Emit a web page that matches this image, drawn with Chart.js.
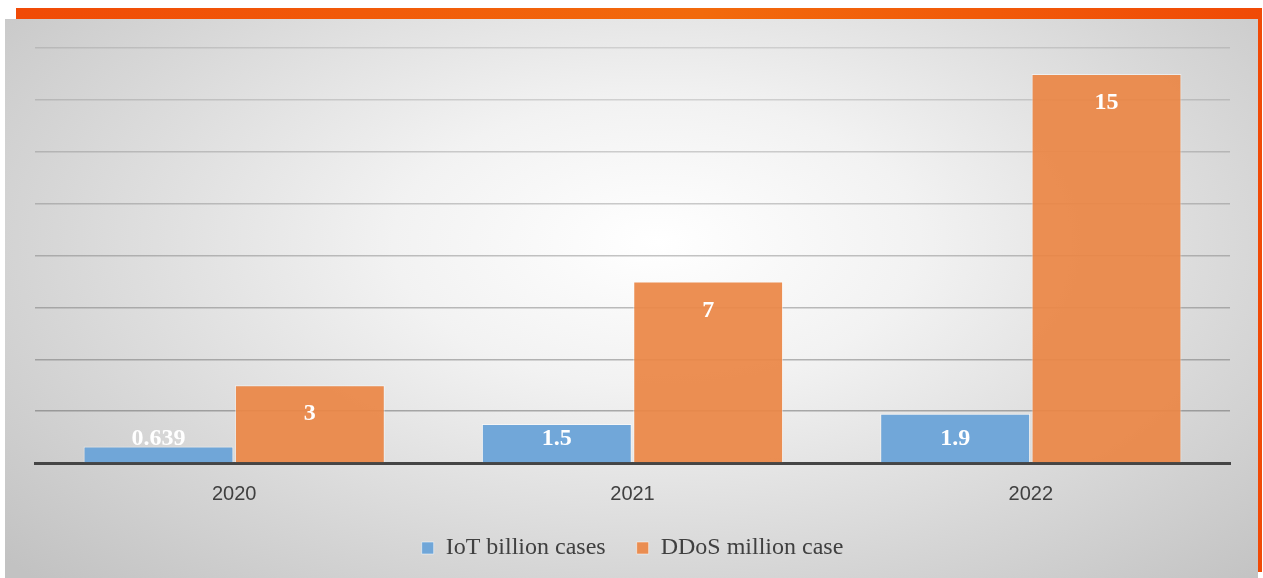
<!DOCTYPE html>
<html>
<head>
<meta charset="utf-8">
<script src="https://cdn.jsdelivr.net/npm/chart.js@4"></script>
<style>
  html, body { margin: 0; padding: 0; background: #ffffff; }
  body { width: 1263px; height: 578px; position: relative; overflow: hidden; }
  /* barra naranja superior */
  .top-bar {
    position: absolute; left: 16px; top: 8px; width: 1246px; height: 11px;
    background: linear-gradient(90deg, #f04a06 0%, #f26a0c 55%, #f04a06 100%);
  }
  .right-bar {
    position: absolute; left: 1258px; top: 19px; width: 4px; height: 553px;
    background: #f04a06;
  }
  .panel {
    position: absolute; left: 5px; top: 19px; width: 1253px; height: 559px;
    background: radial-gradient(ellipse 70% 85% at 52% 40%, #ffffff 0%, #f2f2f2 30%, #d6d6d6 70%, #c2c2c2 100%);
  }
  .chart-box { position: absolute; left: 0; top: 0; width: 1253px; height: 559px; }
</style>
</head>
<body>
<div class="top-bar"></div>
<div class="panel">
  <div class="chart-box"><canvas id="grafico"></canvas></div>
</div>
<div class="right-bar"></div>
<script>
// Datos
const anios = ["2020", "2021", "2022"];
const iotBillones = [0.639, 1.5, 1.9];
const ddosMillones = [3, 7, 15];
const etiquetasSeries = ["IoT billion cases", "DDoS million case"];

// Etiquetas blancas dentro de cada barra (como "extremo interior" de Excel)
const etiquetasBarras = {
  id: "etiquetasBarras",
  afterDatasetsDraw(chart) {
    const ctx = chart.ctx;
    ctx.save();
    ctx.fillStyle = "#ffffff";
    ctx.font = "bold 24px 'Liberation Serif', 'DejaVu Serif', serif";
    ctx.textAlign = "center";
    ctx.textBaseline = "middle";
    chart.data.datasets.forEach((ds, i) => {
      chart.getDatasetMeta(i).data.forEach((bar, j) => {
        const y = Math.min(bar.y + 29, bar.base - 23);
        ctx.fillText(String(ds.data[j]), bar.x, y);
      });
    });
    ctx.restore();
  }
};

const canvas = document.getElementById("grafico");

new Chart(canvas, {
  type: "bar",
  data: {
    labels: anios,
    datasets: [
      {
        label: etiquetasSeries[0],
        data: iotBillones,
        backgroundColor: "rgba(106, 163, 216, 0.95)",
        borderColor: "rgba(255, 255, 255, 0.5)",
        borderWidth: 1,
        categoryPercentage: 0.76,
        barPercentage: 0.99,
      },
      {
        label: etiquetasSeries[1],
        data: ddosMillones,
        backgroundColor: "rgba(235, 135, 70, 0.93)",
        borderColor: "rgba(255, 255, 255, 0.5)",
        borderWidth: 1,
        categoryPercentage: 0.76,
        barPercentage: 0.99,
      },
    ],
  },
  options: {
    responsive: true,
    maintainAspectRatio: false,
    animation: false,
    layout: { padding: { left: 30, right: 28, top: 29, bottom: 8 } },
    plugins: {
      tooltip: { enabled: false },
      legend: {
        position: "bottom",
        labels: {
          boxWidth: 12,
          boxHeight: 12,
          padding: 19,
          color: "#404040",
          font: { family: "'Liberation Serif', serif", size: 24 },
          // un poco más de separación entre las dos entradas
          generateLabels(chart) {
            const items = Chart.defaults.plugins.legend.labels.generateLabels(chart);
            items.forEach((it, i) => {
              if (i < items.length - 1) it.text = it.text + "\u2002";
            });
            return items;
          },
        },
      },
    },
    scales: {
      x: {
        grid: { display: false },
        border: { display: true, color: "#454545", width: 3 },
        ticks: {
          color: "#404040",
          padding: 11,
          font: { family: "'Liberation Sans', Arial, sans-serif", size: 20 },
        },
      },
      y: {
        min: 0,
        max: 16,
        ticks: { stepSize: 2, display: false },
        grid: {
          color: (c) => "rgba(100, 100, 100, " + (0.2 + 0.35 * (1 - c.tick.value / 16)).toFixed(2) + ")",
          lineWidth: 1.5,
          drawTicks: false,
        },
        border: { display: false },
      },
    },
  },
  plugins: [etiquetasBarras],
});
</script>
</body>
</html>
